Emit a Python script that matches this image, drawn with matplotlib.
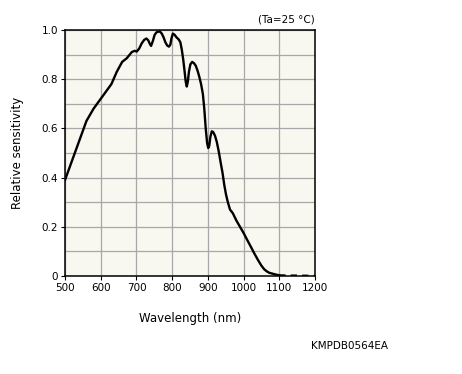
import numpy as np
import matplotlib.pyplot as plt

# spectral response
wavelength = [500, 515, 530, 545, 560, 580, 600, 615, 630, 645, 660, 673, 687, 695,
              701, 708, 715, 722, 728, 733, 737, 741, 746, 751, 756, 761, 766, 771,
              776, 781, 786, 791, 795, 798, 802, 807, 812, 818, 823, 827, 831, 835,
              838, 841, 844, 847, 851, 856, 861, 866, 871, 876, 881, 886, 890, 894,
              898, 901, 904, 907, 911, 915, 920, 925, 930, 936, 941, 946, 951, 956,
              962, 970, 980, 990, 1000, 1010, 1020, 1030, 1040, 1050, 1058, 1065,
              1072, 1080, 1090, 1100]
sensitivity = [0.39, 0.45, 0.51, 0.57, 0.63, 0.68, 0.72, 0.75, 0.78, 0.83, 0.87, 0.885,
               0.91, 0.915, 0.912, 0.925, 0.946, 0.96, 0.965, 0.958, 0.945, 0.935, 0.955,
               0.98, 0.99, 0.993, 0.993, 0.985, 0.97, 0.95, 0.937, 0.932, 0.94, 0.965,
               0.985, 0.98, 0.97, 0.962, 0.95, 0.92, 0.88, 0.83, 0.79, 0.77, 0.79, 0.83,
               0.86, 0.87, 0.865, 0.855, 0.835, 0.81, 0.78, 0.74, 0.68, 0.60, 0.54, 0.52,
               0.53, 0.565, 0.588, 0.585, 0.57, 0.545, 0.51, 0.46, 0.42, 0.37, 0.33, 0.30,
               0.27, 0.255, 0.225, 0.2, 0.175, 0.147, 0.12, 0.092, 0.066, 0.042, 0.027,
               0.019, 0.013, 0.01, 0.006, 0.003]
tail_wl = [1100, 1200]
tail_val = [0.003, 0.001]

x_ticks = [500, 600, 700, 800, 900, 1000, 1100, 1200]
y_ticks = [0, 0.2, 0.4, 0.6, 0.8, 1.0]
y_labels = ["0", "0.2", "0.4", "0.6", "0.8", "1.0"]

fig = plt.figure(figsize=(4.62, 3.74), dpi=100)
ax = fig.add_axes([0.1407, 0.262, 0.5411, 0.658])
ax.set_facecolor("#f8f7f0")

ax.plot(wavelength, sensitivity, color="black", lw=1.7, solid_joinstyle="round")
ax.plot(tail_wl, tail_val, color="black", lw=1.5, dashes=(3, 2.5))

ax.set_xlim(500, 1200)
ax.set_ylim(0, 1.0)
ax.set_xticks(x_ticks)
ax.set_yticks(y_ticks)
ax.set_yticklabels(y_labels)
ax.set_yticks(np.arange(0.1, 1.0, 0.2), minor=True)
ax.grid(True, which="both", color="#a8a8a8", lw=0.9)
ax.tick_params(which="major", length=3, width=0.8, labelsize=7.5, pad=2)
ax.tick_params(which="minor", length=0)
for s in ax.spines.values():
    s.set_linewidth(1.1)

ax.set_xlabel("Wavelength (nm)", fontsize=8.5)
ax.xaxis.set_label_coords(0.5, -0.145)
ax.set_ylabel("Relative sensitivity", fontsize=8.5)
ax.yaxis.set_label_coords(-0.165, 0.5)
ax.text(1.0, 1.02, "(Ta=25 °C)", transform=ax.transAxes, ha="right", va="bottom", fontsize=7.5)
fig.text(0.757, 0.075, "KMPDB0564EA", ha="center", va="center", fontsize=7.5)

fig.savefig("out.png", dpi=100)
